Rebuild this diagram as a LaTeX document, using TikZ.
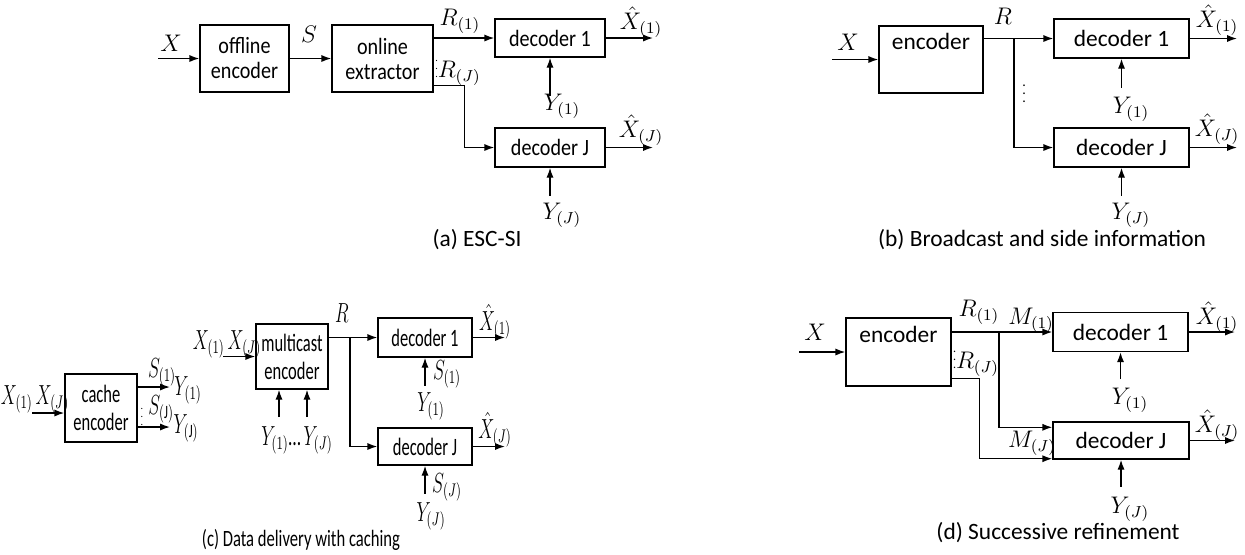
\documentclass[tikz,border=0pt]{standalone}
\usepackage{fontspec}
\usepackage{graphicx}
\setmainfont{Carlito}
\newfontfamily\cfa[FakeStretch=0.86]{Carlito}
\newfontfamily\cfc[FakeStretch=0.66]{Carlito}
\newfontfamily\cfcap[FakeStretch=0.71]{Carlito}
\usetikzlibrary{positioning,arrows.meta}
\newcommand{\smdots}[1][6]{{\fontsize{#1}{#1}\selectfont$\vdots$}}
\newcommand{\cq}[1]{\scalebox{0.75}[1.15]{#1}}

\begin{document}
\begin{tikzpicture}[
    x=0.5pt, y=-0.5pt,
    font=\fontsize{11.7}{13.5}\selectfont,
    box/.style={draw, line width=0.7pt, inner sep=1pt, align=center},
    boxa/.style={box, font=\cfa\fontsize{11.7}{12.5}\selectfont},
    boxc/.style={box, font=\cfc\fontsize{12.5}{14}\selectfont},
    arr/.style={-{Latex[length=5pt,width=3.6pt]}, line width=0.7pt},
    lbl/.style={inner sep=0pt},
]
\useasboundingbox (0,0) rectangle (1245,554);

% (a) ESC-SI
\node[boxa, minimum width=44.5pt, minimum height=33.5pt] (offenc) at (244.5,58.5) {offline\\encoder};
\node[boxa, minimum width=50.5pt, minimum height=33.5pt] (onlext) at (382.5,58.5) {online\\extractor};
\node[boxa, minimum width=55pt, minimum height=19pt] (dec1a) at (550,38) {decoder 1};
\node[boxa, minimum width=55pt, minimum height=19.5pt] (decJa) at (550,147.5) {decoder J};
\coordinate (xina) at (158,58.5);
\coordinate (xo1a) at (653,38);
\coordinate (xoJa) at (653,147.5);
\coordinate[below=19pt of dec1a.south] (y1a);
\coordinate[below=14pt of decJa.south] (yJa);

\draw[arr] (xina) -- (offenc);
\draw[arr] (offenc) -- (onlext);
\draw[arr] (onlext.east |- dec1a) -- (dec1a);
\draw[arr] ([yshift=3.5pt]onlext.south east) -- ++(31,0) |- (decJa);
\draw[arr] (dec1a) -- (xo1a);
\draw[arr] (decJa) -- (xoJa);
\draw[arr] (y1a) -- (dec1a);
\draw[arr] (yJa) -- (decJa);

\node[lbl] (lxa) at (171,43) {$X$};
\node[lbl] (lsa) at (309,34) {$S$};
\node[lbl] (lr1a) at (460,21) {$R_{(1)}$};
\node[lbl] (lrJa) at (458,67) {\smdots[5]$R_{(J)}$};
\node[lbl] (lxh1a) at (641,22) {$\hat{X}_{(1)}$};
\node[lbl] (lxhJa) at (641,130) {$\hat{X}_{(J)}$};
\node[lbl] (ly1a) at (562,106) {$Y_{(1)}$};
\node[lbl] (lyJa) at (562,215) {$Y_{(J)}$};
\node[lbl] (capa) at (477,240) {(a) ESC-SI};

% (b) broadcast
\node[box, minimum width=52pt, minimum height=33.5pt] (encb) at (931,59.5) {encoder\\[4.5pt]\mbox{}};
\node[box, minimum width=67.5pt, minimum height=19.5pt] (dec1b) at (1121.5,38.5) {decoder 1};
\node[box, minimum width=67.5pt, minimum height=19.5pt] (decJb) at (1121.5,147.5) {decoder J};
\coordinate (xinb) at (832,59.5);
\coordinate (brb) at (1014,38.5);
\coordinate (xo1b) at (1237,38.5);
\coordinate (xoJb) at (1237,147.5);
\coordinate[below=14.5pt of dec1b.south] (y1b);
\coordinate[below=14pt of decJb.south] (yJb);

\draw[arr] (xinb) -- (encb);
\draw[arr] (encb.east |- dec1b) -- (dec1b);
\draw[arr] (brb) |- (decJb);
\draw[arr] (dec1b) -- (xo1b);
\draw[arr] (decJb) -- (xoJb);
\draw[arr] (y1b) -- (dec1b);
\draw[arr] (yJb) -- (decJb);

\node[lbl] (lxb) at (848,42) {$X$};
\node[lbl] (lrb) at (1003,16) {$R$};
\node[lbl] (ldb) at (1024,88) {\smdots[7]};
\node[lbl] (lxh1b) at (1217,20) {$\hat{X}_{(1)}$};
\node[lbl] (lxhJb) at (1217,129) {$\hat{X}_{(J)}$};
\node[lbl] (ly1b) at (1131,109) {$Y_{(1)}$};
\node[lbl] (lyJb) at (1131,215) {$Y_{(J)}$};
\node[lbl] (capb) at (1042,240) {(b) Broadcast and side information};

% (c) caching
\node[boxc, minimum width=36pt, minimum height=34pt] (cache) at (101,408) {cache\\encoder};
\node[boxc, minimum width=36pt, minimum height=32.5pt] (mcast) at (292,356.5) {multicast\\encoder};
\node[boxc, minimum width=47pt, minimum height=19.5pt] (dec1c) at (425,337.5) {decoder 1};
\node[boxc, minimum width=47pt, minimum height=18.5pt] (decJc) at (425,446.5) {decoder J};
\coordinate (xinc1) at (32,413);
\coordinate (sc1) at (170,387);
\coordinate (scJ) at (170,427);
\coordinate (xinc2) at (223,356.5);
\coordinate (ymc1) at (279,417);
\coordinate (ymcJ) at (307,417);
\coordinate (brc) at (350,337.5);
\coordinate (xo1c) at (505,337.5);
\coordinate (xoJc) at (505,446.5);
\coordinate[below=14pt of dec1c.south] (y1c);
\coordinate[below=14pt of decJc.south] (yJc);

\draw[arr] (xinc1) -- (xinc1 -| cache.west);
\draw[arr] (sc1 -| cache.east) -- (sc1);
\draw[arr] (scJ -| cache.east) -- (scJ);
\draw[arr] (xinc2) -- (mcast);
\draw[arr] (ymc1) -- (ymc1 |- mcast.south);
\draw[arr] (ymcJ) -- (ymcJ |- mcast.south);
\draw[arr] (mcast.east |- dec1c) -- (dec1c);
\draw[arr] (brc) |- (decJc);
\draw[arr] (dec1c) -- (xo1c);
\draw[arr] (decJc) -- (xoJc);
\draw[arr] (y1c) -- (dec1c);
\draw[arr] (yJc) -- (decJc);

\node[lbl] (lxc1) at (35,399) {\cq{$X_{(1)}\,X_{(J)}$}};
\node[lbl] (ls1c) at (162,372) {\cq{$S_{(1)}$}};
\node[lbl] (lys1c) at (188,390) {\cq{$Y_{(1)}$}};
\node[lbl] (ldc) at (142,411) {\smdots[5]};
\node[lbl] (lsJc) at (161,409) {\cq{$S_{(\mathrm{J})}$}};
\node[lbl] (lysJc) at (186,428) {\cq{$Y_{(\mathrm{J})}$}};
\node[lbl] (lxc2) at (227,344) {\cq{$X_{(1)}\,X_{(J)}$}};
\node[lbl] (lymc) at (297,440) {\cq{$Y_{(1)}$\ldots\,$Y_{(J)}$}};
\node[lbl] (lrc) at (342,313) {\cq{$R$}};
\node[lbl] (lxh1c) at (495,322) {\cq{$\hat{X}_{(1)}$}};
\node[lbl] (lxhJc) at (495,430) {\cq{$\hat{X}_{(J)}$}};
\node[lbl] (ls1d) at (447,374) {\cq{$S_{(1)}$}};
\node[lbl] (ly1c) at (431,406) {\cq{$Y_{(1)}$}};
\node[lbl] (lsJd) at (447,487) {\cq{$S_{(J)}$}};
\node[lbl] (lyJc) at (431,516) {\cq{$Y_{(J)}$}};
\node[lbl, font=\cfcap\fontsize{11.7}{13.5}\selectfont] (capc) at (301,540) {(c) Data delivery with caching};

% (d) successive refinement
\node[box, minimum width=52.5pt, minimum height=34pt] (encd) at (898.5,352) {encoder\\[4.5pt]\mbox{}};
\node[box, minimum width=67.5pt, minimum height=19.5pt] (dec1d) at (1120.5,332) {decoder 1};
\node[box, minimum width=68pt, minimum height=18.5pt] (decJd) at (1121,440.5) {decoder J};
\coordinate (xind) at (799,352);
\coordinate (brd) at (999,332);
\coordinate (xo1d) at (1235,332);
\coordinate (xoJd) at (1235,440.5);
\coordinate[below=13.5pt of dec1d.south] (y1d);
\coordinate[below=13.5pt of decJd.south] (yJd);

\draw[arr] (xind) -- (encd);
\draw[arr] (encd.east |- dec1d) -- (dec1d);
\draw[arr] (brd) |- ([yshift=-3pt]decJd.north west);
\draw[arr] ([yshift=4pt]encd.south east) -- ++(28,0) |- ([yshift=0.5pt]decJd.south west);
\draw[arr] (dec1d) -- (xo1d);
\draw[arr] (decJd) -- (xoJd);
\draw[arr] (y1d) -- (dec1d);
\draw[arr] (yJd) -- (decJd);

\node[lbl] (lxd) at (815,332) {$X$};
\node[lbl] (lr1d) at (979,312) {$R_{(1)}$};
\node[lbl] (lm1d) at (1031,320) {$M_{(1)}$};
\node[lbl] (lrJd) at (976,358) {\smdots[6]$R_{(J)}$};
\node[lbl] (lmJd) at (1032,443) {$M_{(J)}$};
\node[lbl] (lxh1d) at (1217,317) {$\hat{X}_{(1)}$};
\node[lbl] (lxhJd) at (1217,425) {$\hat{X}_{(J)}$};
\node[lbl] (ly1d) at (1130,400) {$Y_{(1)}$};
\node[lbl] (lyJd) at (1130,509) {$Y_{(J)}$};
\node[lbl] (capd) at (1058,533) {(d) Successive refinement};
\end{tikzpicture}
\end{document}
